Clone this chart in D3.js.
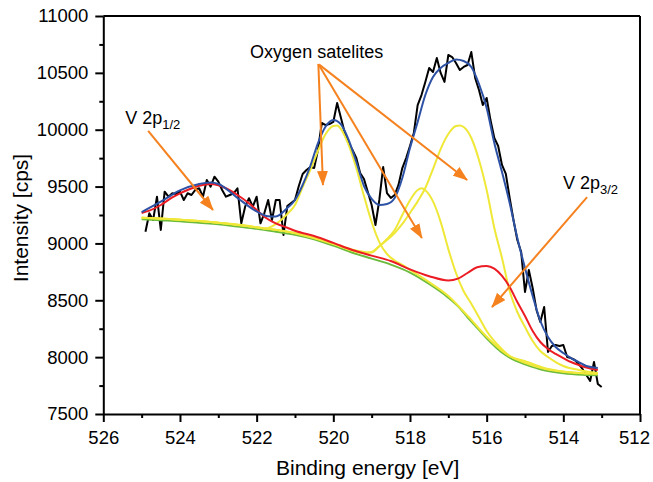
<!DOCTYPE html>
<meta charset="utf-8">
<style>
body { margin: 0; background: #fff; }
svg text { font-family: "Liberation Sans", Arial, sans-serif; fill: #000; }
.axis path, .axis line { stroke: #000; stroke-width: 2; }
.axis text { font-size: 18.5px; }
.fit { fill: none; stroke-width: 2; stroke-linejoin: round; }
</style>
<body>
<script src="https://cdn.jsdelivr.net/npm/d3@7"></script>
<script>

// tick labels
var xTicks = [526, 524, 522, 520, 518, 516, 514, 512],
    xMinor = [525, 523, 521, 519, 517, 515, 513],
    yTicks = [7500, 8000, 8500, 9000, 9500, 10000, 10500, 11000],
    yMinor = [7750, 8250, 8750, 9250, 9750, 10250, 10750];

// measured spectrum (binding energy, counts)
var rawEnergy = [
  524.9, 524.8, 524.7, 524.6, 524.5, 524.4, 524.3, 524.2, 524.1, 524.0,
  523.9, 523.8, 523.7, 523.6, 523.5, 523.4, 523.3, 523.2, 523.1, 523.0,
  522.9, 522.8, 522.7, 522.6, 522.5, 522.4, 522.3, 522.2, 522.1, 522.0,
  521.9, 521.8, 521.7, 521.6, 521.5, 521.4, 521.3, 521.2, 521.1, 521.0,
  520.9, 520.8, 520.7, 520.6, 520.5, 520.4, 520.3, 520.2, 520.1, 520.0,
  519.9, 519.8, 519.7, 519.6, 519.5, 519.4, 519.3, 519.2, 519.1, 519.0,
  518.9, 518.8, 518.7, 518.6, 518.5, 518.4, 518.3, 518.2, 518.1, 518.0,
  517.9, 517.8, 517.7, 517.6, 517.5, 517.4, 517.3, 517.2, 517.1, 517.0,
  516.9, 516.8, 516.7, 516.6, 516.5, 516.4, 516.3, 516.2, 516.1, 516.0,
  515.9, 515.8, 515.7, 515.6, 515.5, 515.4, 515.3, 515.2, 515.1, 515.0,
  514.9, 514.8, 514.7, 514.6, 514.5, 514.4, 514.3, 514.2, 514.1, 514.0,
  513.9, 513.8, 513.7, 513.6, 513.5, 513.4, 513.3, 513.2, 513.1, 513.0];
var rawCounts = [
  9103, 9265, 9206, 9411, 9118, 9455, 9411, 9441, 9435, 9455,
  9382, 9441, 9426, 9470, 9485, 9411, 9558, 9499, 9587, 9543,
  9470, 9411, 9426, 9441, 9485, 9177, 9323, 9397, 9323, 9411,
  9177, 9265, 9382, 9206, 9382, 9382, 9074, 9329, 9356, 9382,
  9505, 9611, 9646, 9672, 9663, 9822, 10059, 10041, 10050, 10068,
  10235, 10103, 9971, 9883, 9822, 9751, 9619, 9567, 9452, 9338,
  9162, 9382, 9672, 9443, 9400, 9426, 9514, 9663, 9751, 9857,
  9971, 10217, 10305, 10420, 10543, 10508, 10631, 10499, 10420, 10657,
  10639, 10587, 10525, 10552, 10569, 10683, 10455, 10349, 10217, 10279,
  10085, 9927, 9857, 9690, 9611, 9400, 9206, 9030, 8925, 8573,
  8766, 8608, 8415, 8309, 8441, 8045, 8098, 8107, 8098, 8107,
  8001, 7992, 7975, 7940, 7896, 7843, 7790, 7957, 7764, 7737];

// background
var bgEnergy = [525, 524.5, 524, 523.5, 523, 522.5, 522, 521.5, 521, 520.5, 520, 519.5, 519, 518.5, 518,
  517.5, 517, 516.75, 516.5, 516.25, 516, 515.75, 515.5, 515.25, 515, 514.5, 514, 513.5, 513.1];
var bgCounts = [9224, 9215, 9206, 9193, 9180, 9160, 9140, 9115, 9088, 9048, 8992, 8930, 8878, 8825, 8755,
  8655, 8535, 8460, 8362, 8270, 8177, 8095, 8028, 7980, 7948, 7896, 7869, 7856, 7852];

// oxygen satellite components (on background)
var sat1Energy = [525, 524, 523, 522, 521.8, 521.6, 521.4, 521.2, 521.0, 520.8, 520.6, 520.4, 520.2, 520.0, 519.9,
  519.8, 519.6, 519.4, 519.2, 519.0, 518.8, 518.6, 518.4, 518.2, 518.0, 517.5, 517, 516.5, 516, 515.5,
  515, 514.5, 514, 513.5, 513.1];
var sat1Counts = [9226, 9208, 9182, 9142, 9130, 9150, 9195, 9259, 9338, 9496, 9646, 9813, 9962, 10033, 10037,
  10006, 9866, 9663, 9417, 9188, 9012, 8907, 8850, 8812, 8768, 8660, 8538, 8364, 8179, 8030,
  7950, 7898, 7871, 7858, 7854];

var sat2Energy = [525, 524, 523, 522, 521, 520, 519.5, 519.2, 519.0, 518.8, 518.6, 518.4, 518.2, 518.0, 517.8,
  517.7, 517.6, 517.4, 517.2, 517.0, 516.8, 516.6, 516.4, 516.2, 516.0, 515.8, 515.6, 515.4, 515.0, 514.5,
  514, 513.5, 513.1];
var sat2Counts = [9226, 9208, 9182, 9142, 9090, 8994, 8935, 8915, 8925, 8975, 9039, 9118, 9250, 9380, 9470,
  9485, 9468, 9370, 9190, 8950, 8740, 8580, 8470, 8350, 8230, 8140, 8070, 8010, 7965, 7905,
  7874, 7860, 7855];

var sat3Energy = [525, 524, 523, 522, 521, 520, 519.5, 519.0, 518.8, 518.6, 518.4, 518.2, 518.0, 517.8, 517.6,
  517.4, 517.2, 517.0, 516.8, 516.7, 516.6, 516.4, 516.2, 516.0, 515.8, 515.6, 515.4, 515.2, 515.0, 514.8,
  514.6, 514.4, 514.2, 514.0, 513.6, 513.1];
var sat3Counts = [9226, 9208, 9182, 9142, 9092, 9000, 8945, 8920, 8977, 9030, 9092, 9171, 9268, 9370, 9487,
  9654, 9830, 9962, 10033, 10037, 10024, 9927, 9734, 9470, 9136, 8872, 8582, 8397, 8265, 8142,
  8054, 8001, 7957, 7922, 7887, 7861];

// V 2p doublet (on background)
var vEnergy = [525, 524.8, 524.5, 524.2, 524.0, 523.8, 523.5, 523.2, 523.0, 522.8, 522.5, 522.2, 522.0, 521.8, 521.5,
  521.2, 521.0, 520.5, 520.0, 519.5, 519.0, 518.5, 518.0, 517.5, 517.0, 516.75, 516.5, 516.25, 516.0, 515.8,
  515.6, 515.4, 515.2, 515.0, 514.8, 514.6, 514.4, 514.2, 514.0, 513.8, 513.6, 513.4, 513.1];
var vCounts = [9268, 9288, 9338, 9405, 9441, 9470, 9508, 9523, 9511, 9485, 9426, 9353, 9294, 9235, 9177,
  9138, 9112, 9065, 9005, 8942, 8893, 8845, 8772, 8712, 8674, 8690, 8740, 8790, 8802, 8778,
  8714, 8617, 8485, 8362, 8230, 8133, 8072, 8028, 7992, 7957, 7931, 7909, 7887];

// envelope
var sumEnergy = [525, 524.5, 524, 523.5, 523.2, 523.0, 522.5, 522.0, 521.7, 521.5, 521.2, 521.0, 520.8, 520.6, 520.4,
  520.2, 520.0, 519.9, 519.8, 519.6, 519.4, 519.2, 519.0, 518.8, 518.6, 518.4, 518.2, 518.0, 517.8, 517.6,
  517.4, 517.2, 517.0, 516.8, 516.6, 516.4, 516.2, 516.0, 515.8, 515.6, 515.4, 515.2, 515.0, 514.8, 514.6,
  514.4, 514.2, 514.0, 513.8, 513.6, 513.4, 513.1];
var sumCounts = [9276, 9367, 9466, 9523, 9536, 9523, 9400, 9281, 9239, 9237, 9312, 9382, 9514, 9681, 9883,
  10028, 10085, 10076, 10046, 9910, 9716, 9505, 9391, 9338, 9347, 9400, 9575, 9839, 10068, 10305,
  10464, 10543, 10587, 10617, 10604, 10552, 10402, 10191, 9883, 9628, 9356, 9048, 8784, 8538, 8318,
  8177, 8089, 8036, 7992, 7957, 7922, 7905];

// annotations, in data units
var arrows = [
  {from: [524.83, 9989], to: [523.14, 9294]},
  {from: [520.39, 10578], to: [520.27, 9514]},
  {from: [520.39, 10578], to: [517.69, 9048]},
  {from: [520.36, 10570], to: [516.51, 9558]},
  {from: [513.38, 9408], to: [515.86, 8441]}
];

var margin = {top: 16, right: 13, bottom: 68, left: 103.3},
    width = 653 - margin.left - margin.right,
    height = 482 - margin.top - margin.bottom;

var x = d3.scaleLinear().domain([526, 512]).range([0, width]);
var y = d3.scaleLinear().domain([7500, 11000]).range([height, 0]);

var svg = d3.select("body").append("svg")
    .attr("width", 653)
    .attr("height", 482)
  .append("g")
    .attr("transform", "translate(" + margin.left + "," + margin.top + ")");

svg.append("defs").append("marker")
    .attr("id", "head")
    .attr("markerUnits", "userSpaceOnUse")
    .attr("viewBox", "0 0 15 11")
    .attr("markerWidth", 15)
    .attr("markerHeight", 11)
    .attr("refX", 14)
    .attr("refY", 5.5)
    .attr("orient", "auto")
  .append("path")
    .attr("d", "M0,0L15,5.5L0,11Z")
    .attr("fill", "#f5821f");

function zip(e, c) { return e.map(function(d, i) { return [d, c[i]]; }); }

var line = d3.line()
    .x(function(d) { return x(d[0]); })
    .y(function(d) { return y(d[1]); });
var smooth = d3.line()
    .x(function(d) { return x(d[0]); })
    .y(function(d) { return y(d[1]); })
    .curve(d3.curveMonotoneX);

// raw data
svg.append("path")
    .attr("class", "fit")
    .attr("d", line(zip(rawEnergy, rawCounts)))
    .attr("stroke", "#000");

// background
svg.append("path")
    .attr("class", "fit")
    .attr("transform", "translate(0,1.3)")
    .attr("d", smooth(zip(bgEnergy, bgCounts)))
    .attr("stroke", "#6cbb3c");

[[sat1Energy, sat1Counts], [sat2Energy, sat2Counts], [sat3Energy, sat3Counts]].forEach(function(s) {
  svg.append("path")
      .attr("class", "fit")
      .attr("d", smooth(zip(s[0], s[1])))
      .attr("stroke", "#efe838");
});

svg.append("path")
    .attr("class", "fit")
    .attr("d", smooth(zip(vEnergy, vCounts)))
    .attr("stroke", "#ec1c24");

svg.append("path")
    .attr("class", "fit")
    .attr("d", smooth(zip(sumEnergy, sumCounts)))
    .attr("stroke", "#2d52a5");

// arrows
svg.selectAll("line.arrow")
    .data(arrows)
  .enter().append("line")
    .attr("class", "arrow")
    .attr("x1", function(d) { return x(d.from[0]); })
    .attr("y1", function(d) { return y(d.from[1]); })
    .attr("x2", function(d) { return x(d.to[0]); })
    .attr("y2", function(d) { return y(d.to[1]); })
    .attr("stroke", "#f5821f")
    .attr("stroke-width", 2)
    .attr("marker-end", "url(#head)");

// labels
var t1 = svg.append("text")
    .attr("x", x(525.43)).attr("y", y(10050))
    .style("font-size", "18px");
t1.append("tspan").text("V 2p");
t1.append("tspan").attr("dy", 5).style("font-size", "13px").text("1/2");

var t2 = svg.append("text")
    .attr("x", x(514.01)).attr("y", y(9479))
    .style("font-size", "18px");
t2.append("tspan").text("V 2p");
t2.append("tspan").attr("dy", 5).style("font-size", "13px").text("3/2");

svg.append("text")
    .attr("x", x(522.17)).attr("y", y(10631))
    .style("font-size", "18px")
    .text("Oxygen satelites");

// axes
svg.append("g")
    .attr("class", "axis")
    .attr("transform", "translate(0," + height + ")")
    .call(d3.axisBottom(x).tickValues(xMinor).tickSize(4).tickFormat(""))
    .select(".domain").remove();
svg.append("g")
    .attr("class", "axis")
    .call(d3.axisLeft(y).tickValues(yMinor).tickSize(4).tickFormat(""))
    .select(".domain").remove();

var xAxis = svg.append("g")
    .attr("class", "axis")
    .attr("transform", "translate(0," + height + ")")
    .call(d3.axisBottom(x).tickValues(xTicks).tickSize(8).tickSizeOuter(0).tickPadding(9).tickFormat(d3.format("d")));
// keep the last label inside the window
xAxis.selectAll(".tick text")
    .filter(function(d) { return d === 512; })
    .attr("dx", -6);

svg.append("g")
    .attr("class", "axis")
    .call(d3.axisLeft(y).tickValues(yTicks).tickSize(8).tickSizeOuter(0).tickPadding(7).tickFormat(d3.format("d")));

svg.append("line")
    .attr("x1", 0).attr("x2", width).attr("y1", 0).attr("y2", 0)
    .attr("stroke", "#000").attr("stroke-width", 2);
svg.append("line")
    .attr("x1", width).attr("x2", width).attr("y1", 0).attr("y2", height)
    .attr("stroke", "#000").attr("stroke-width", 2);

svg.selectAll(".axis text").style("font-family", "'Liberation Sans', Arial, sans-serif");

svg.append("text")
    .attr("x", width / 2 - 4)
    .attr("y", height + 61)
    .attr("text-anchor", "middle")
    .style("font-size", "21px")
    .text("Binding energy [eV]");

svg.append("text")
    .attr("transform", "translate(" + (27.7 - margin.left) + "," + (218 - margin.top) + ") rotate(-90)")
    .attr("text-anchor", "middle")
    .style("font-size", "21px")
    .text("Intensity [cps]");

</script>
</body>
